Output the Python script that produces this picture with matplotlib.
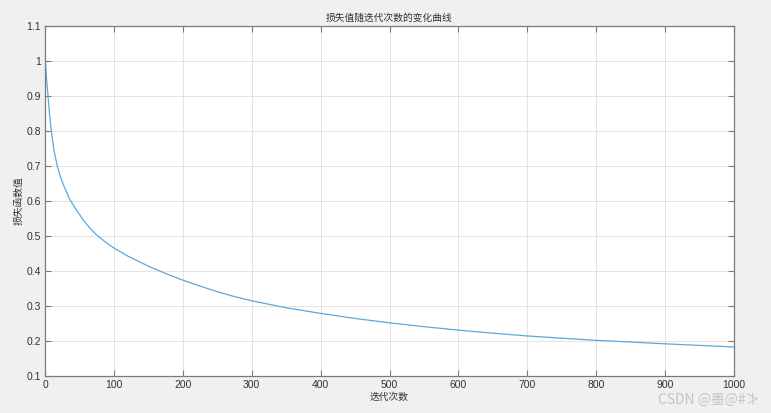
import matplotlib
matplotlib.use("Agg")
import matplotlib.pyplot as plt

plt.rcParams['font.family'] = ['Liberation Sans', 'Noto Sans CJK SC', 'DejaVu Sans']

# loss curve
iters = [0, 2, 4.4, 6.5, 9.2, 13, 17.8, 22, 27, 36, 45, 56, 65, 75, 87, 100,
         120, 150, 175, 200, 225, 250, 275, 300, 350, 400, 450, 500, 550, 600,
         650, 700, 750, 800, 850, 900, 950, 1000]
loss = [1.013, 0.955, 0.90, 0.85, 0.80, 0.745, 0.70, 0.672, 0.645, 0.605, 0.576,
        0.545, 0.523, 0.503, 0.484, 0.466, 0.443, 0.414, 0.393, 0.374, 0.357,
        0.341, 0.327, 0.315, 0.295, 0.279, 0.2645, 0.252, 0.241, 0.231, 0.2225,
        0.2145, 0.208, 0.202, 0.197, 0.192, 0.1875, 0.183]

xticks = list(range(0, 1001, 100))
yticks = [0.1, 0.2, 0.3, 0.4, 0.5, 0.6, 0.7, 0.8, 0.9, 1, 1.1]
ytick_labels = ['0.1', '0.2', '0.3', '0.4', '0.5', '0.6', '0.7', '0.8', '0.9', '1', '1.1']

cjk = ['Noto Sans CJK SC', 'DejaVu Sans']
edge = '#7a7a7a'

fig = plt.figure(figsize=(7.71, 4.13), dpi=100, facecolor='#f0f0f0')
ax = fig.add_axes([0.0584, 0.0896, 0.8936, 0.847])
ax.set_facecolor('white')

ax.plot(iters, loss, color='#5aa8de', lw=0.9)

ax.set_xlim(0, 1000)
ax.set_ylim(0.1, 1.1)
ax.set_xticks(xticks)
ax.set_yticks(yticks)
ax.set_yticklabels(ytick_labels)
ax.grid(True, color='#e4e4e4', lw=0.7)
ax.tick_params(direction='in', length=4, width=0.8, colors=edge, labelcolor='#333333',
               labelsize=7.5, top=True, right=True, pad=3)
for s in ax.spines.values():
    s.set_color(edge)
    s.set_linewidth(0.9)

ax.set_title('损失值随迭代次数的变化曲线', family=cjk, fontsize=7, color='#333333', pad=4)
ax.set_xlabel('迭代次数', family=cjk, fontsize=7, color='#333333', labelpad=1)
ax.set_ylabel('损失函数值', family=cjk, fontsize=7, color='#333333', labelpad=2)

fig.text(0.985, 0.015, 'CSDN @墨@#≯', family=cjk, fontsize=10, color='#c4c4c4',
         ha='right', va='bottom')

fig.savefig('out.png', dpi=100, facecolor=fig.get_facecolor())
